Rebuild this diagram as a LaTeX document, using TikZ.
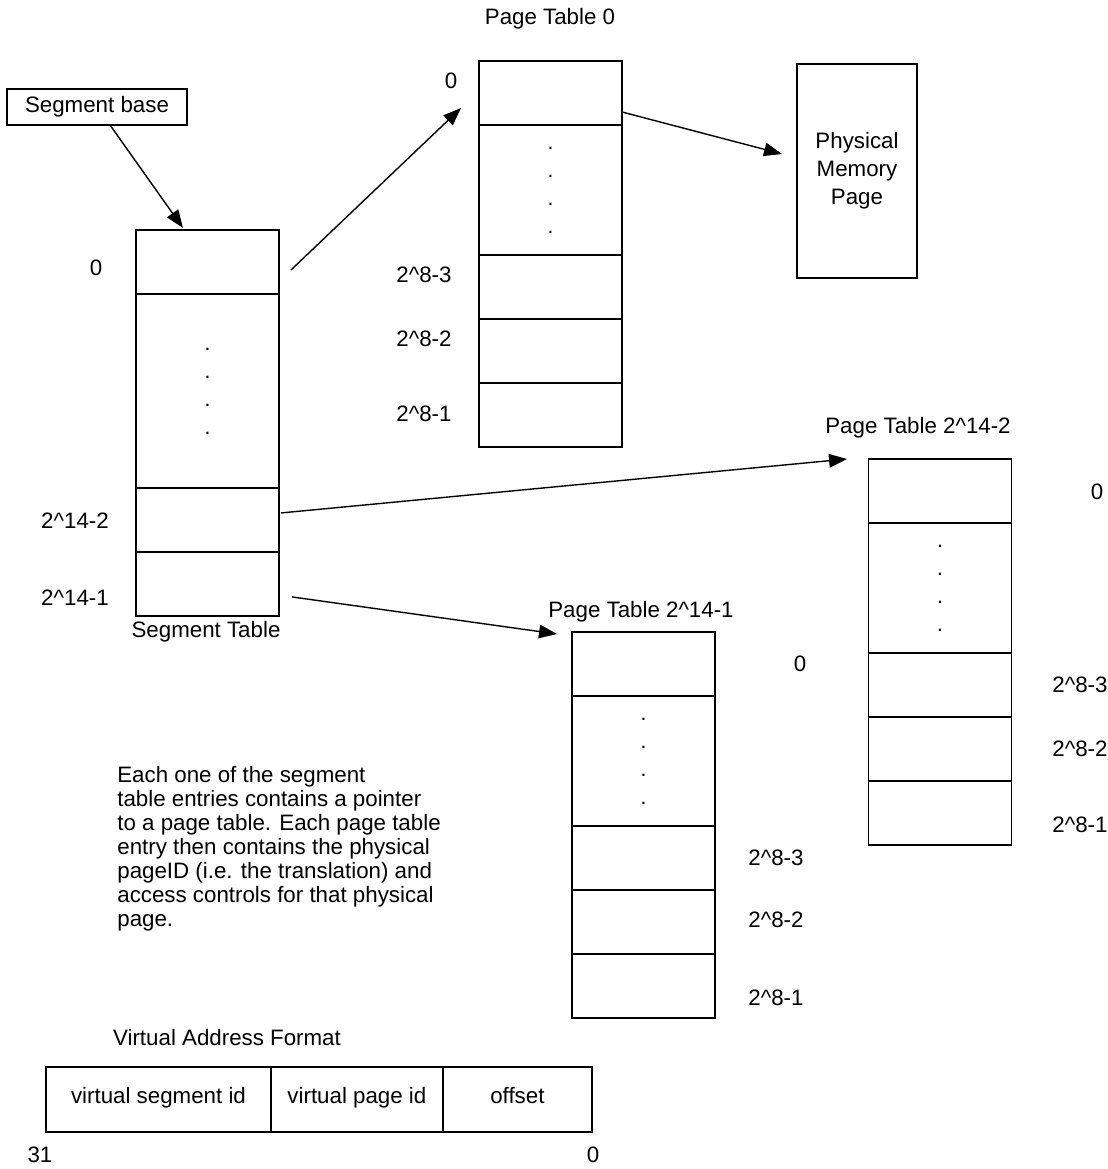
\documentclass[tikz,border=0pt]{standalone}
\usepackage{fontspec}
\setmainfont{Liberation Sans}
\usepackage{tikz}
\usetikzlibrary{positioning}
\usetikzlibrary{arrows.meta}
\newcommand\crt{\textasciicircum}
\tikzstyle{cell}=[rectangle,draw,line width=0.8pt,minimum width=2.86cm,minimum height=1.28cm,inner sep=0pt,outer sep=0pt]
\tikzstyle{dotcell}=[cell,minimum height=2.6cm,align=center,font=\fontsize{12}{15.9}\selectfont]
\tikzstyle{edge}=[draw,line width=0.8pt,-{Triangle[length=0.36cm,width=0.27cm]}]
\tikzstyle{lbl}=[font=\fontsize{12.7}{15}\selectfont,inner sep=0pt]
\tikzstyle{vcell}=[cell,lbl,minimum height=1.3cm,text height=0.72em,text depth=0.21em]

\begin{document}
\begin{tikzpicture}[x=0.02cm,y=-0.02cm]
    \useasboundingbox (0,0) rectangle (1108,1169);
    % Segment base and the segment table
    \node[cell,minimum width=3.6cm,minimum height=0.72cm,lbl] (sbase) at (97,107) {Segment base};
    \node[cell,anchor=north] (st-0) at (207.5,230) {};
    \node[dotcell,minimum height=3.88cm,below=0pt of st-0] (st-d) {.\\.\\.\\.};
    \node[cell,below=0pt of st-d] (st-b) {};
    \node[cell,below=0pt of st-b] (st-c) {};
    \node[lbl] (st-title) at (206,632) {Segment Table};

    % Then the three page tables
    \foreach \name/\pos in {pt0/{(550.5,61)}, ptb/{(940,459)}, pta/{(643.5,632)}} {
        \node[cell,anchor=north] (\name-0) at \pos {};
        \node[dotcell,below=0pt of \name-0] (\name-d) {.\\.\\.\\.};
        \node[cell,below=0pt of \name-d] (\name-1) {};
        \node[cell,below=0pt of \name-1] (\name-2) {};
        \node[cell,below=0pt of \name-2] (\name-3) {};
    }
    \foreach \pos/\name/\txt in {{(550,19)}/pt0-title/{Page Table 0},
    {(918,428)}/ptb-title/{Page Table 2\crt14-2}, {(641,612)}/pta-title/{Page Table 2\crt14-1}}
        \node[lbl] (\name) at \pos {\txt};

    % Row numbers
    \foreach \pos/\name/\txt in {{(96,268)}/s0/0, {(75,521)}/s1/{2\crt14-2}, {(75,598)}/s2/{2\crt14-1},
    {(451,81)}/p00/0, {(424,275)}/p01/{2\crt8-3}, {(424,339)}/p02/{2\crt8-2}, {(424,414)}/p03/{2\crt8-1},
    {(1097,492)}/pb0/0, {(1080,685)}/pb1/{2\crt8-3}, {(1080,749)}/pb2/{2\crt8-2}, {(1080,825)}/pb3/{2\crt8-1},
    {(800,664)}/pa0/0, {(776,858)}/pa1/{2\crt8-3}, {(776,920)}/pa2/{2\crt8-2}, {(776,998)}/pa3/{2\crt8-1}}
        \node[lbl] (\name) at \pos {\txt};

    \node[cell,minimum width=2.4cm,minimum height=4.28cm,align=center,font=\fontsize{12.7}{15.9}\selectfont] (phys) at (857,171) {Physical\\Memory\\Page};

    % Pointers
    \path[edge] ([xshift=0.26cm]sbase.south) -- ([xshift=-0.49cm,yshift=0.04cm]st-0.north);
    \path[edge] ([xshift=0.24cm,yshift=-0.16cm]st-0.east) -- ([xshift=-0.36cm,yshift=-0.3cm]pt0-0.west);
    \path[edge] ([yshift=-0.38cm]pt0-0.east) -- ([xshift=-0.3cm,yshift=0.34cm]phys.west);
    \path[edge] ([xshift=0.04cm,yshift=0.14cm]st-b.east) -- ([xshift=-0.43cm]ptb-0.north west);
    \path[edge] ([xshift=0.26cm,yshift=-0.26cm]st-c.east) -- ([xshift=-0.3cm,yshift=-0.04cm]pta-0.north west);

    \node[lbl,align=left,anchor=north west,font=\fontsize{12.7}{13.66}\selectfont] (note) at (117,766)
        {Each one of the segment\\table entries contains a pointer\\to a page table. Each page table\\entry then contains the physical\\pageID (i.e. the translation) and\\access controls for that physical\\page.};

    % Virtual address format
    \node[lbl] (va-title) at (227,1038) {Virtual Address Format};
    \node[vcell,minimum width=4.5cm,anchor=north west] (vseg) at (46,1067) {virtual segment id};
    \node[vcell,minimum width=3.44cm,right=0pt of vseg] (vpage) {virtual page id};
    \node[vcell,minimum width=2.98cm,right=0pt of vpage] (voff) {offset};
    \node[lbl] (bit31) at (40,1155) {31};
    \node[lbl] (bit0) at (593,1155) {0};
\end{tikzpicture}
\end{document}
